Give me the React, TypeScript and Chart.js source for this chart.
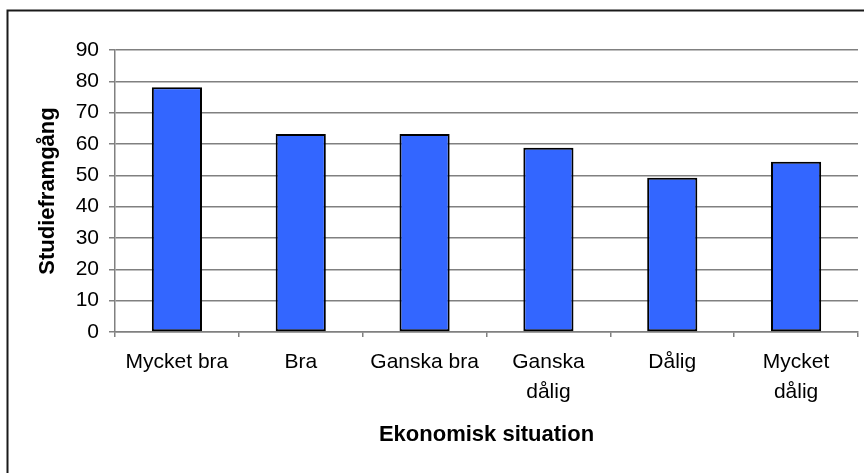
import React, { useEffect, useRef } from "react";
import { Chart, registerables } from "chart.js";

Chart.register(...registerables);

const categories: (string | string[])[] = [
  "Mycket bra",
  "Bra",
  "Ganska bra",
  ["Ganska", "dålig"],
  "Dålig",
  ["Mycket", "dålig"],
];
const values: number[] = [78.1, 63.2, 63.2, 58.8, 49.2, 54.3];
const yTitle = "Studieframgång";
const xTitle = "Ekonomisk situation";
const yMin = 0;
const yMax = 90;
const yStep = 10;

const FONT = "'Liberation Sans', Arial, sans-serif";

const framePlugin = {
  id: "frame",
  beforeDraw(chart: any) {
    const ctx = chart.ctx;
    ctx.save();
    ctx.fillStyle = "#ffffff";
    ctx.fillRect(0, 0, chart.width, chart.height);
    ctx.strokeStyle = "#1a1a1a";
    ctx.lineWidth = 2;
    ctx.strokeRect(7.5, 10.5, chart.width + 20, chart.height + 20);
    ctx.restore();
  },
};

export default function App() {
  const ref = useRef<HTMLCanvasElement | null>(null);
  useEffect(() => {
    document.body.style.margin = "0";
    const canvas = ref.current!;
    const chart = new Chart(canvas, {
      type: "bar",
      data: {
        labels: categories,
        datasets: [
          {
            data: values,
            backgroundColor: "#3366FF",
            borderColor: "#000000",
            borderWidth: 2,
            borderSkipped: false,
            categoryPercentage: 1,
            barPercentage: 0.405,
          },
        ],
      },
      options: {
        responsive: false,
        animation: false,
        devicePixelRatio: 1,
        layout: { padding: { top: 50, right: 6, left: 0, bottom: 0 } },
        plugins: {
          legend: { display: false },
          tooltip: { enabled: false },
          title: { display: false },
        },
        scales: {
          x: {
            grid: {
              display: true,
              drawOnChartArea: false,
              drawTicks: true,
              tickLength: 5,
              color: "#808080",
              lineWidth: 1.5,
              offset: true,
            },
            border: { display: true, color: "#808080", width: 1.5 },
            ticks: {
              color: "#000000",
              font: { family: FONT, size: 21, lineHeight: 1.4 },
              padding: 11,
              autoSkip: false,
              maxRotation: 0,
              minRotation: 0,
            },
            title: {
              display: true,
              text: xTitle,
              color: "#000000",
              font: { family: FONT, size: 22, weight: "bold", lineHeight: 1.2 },
              padding: 25,
            },
            afterFit(scale: any) {
              scale.height = 141;
            },
          },
          y: {
            min: yMin,
            max: yMax,
            ticks: {
              stepSize: yStep,
              color: "#000000",
              font: { family: FONT, size: 21 },
              padding: 10,
            },
            grid: {
              color: "#808080",
              lineWidth: 1.5,
              drawTicks: true,
              tickLength: 6,
            },
            border: { display: true, color: "#808080", width: 1.5 },
            title: {
              display: true,
              text: yTitle,
              color: "#000000",
              font: { family: FONT, size: 22, weight: "bold", lineHeight: 1.2 },
              padding: 35,
            },
            afterFit(scale: any) {
              scale.width = 115;
            },
          },
        },
      },
      plugins: [framePlugin],
    });
    return () => chart.destroy();
  }, []);
  return (
    <canvas
      ref={ref}
      width={864}
      height={473}
      style={{ display: "block", width: 864, height: 473 }}
    />
  );
}
